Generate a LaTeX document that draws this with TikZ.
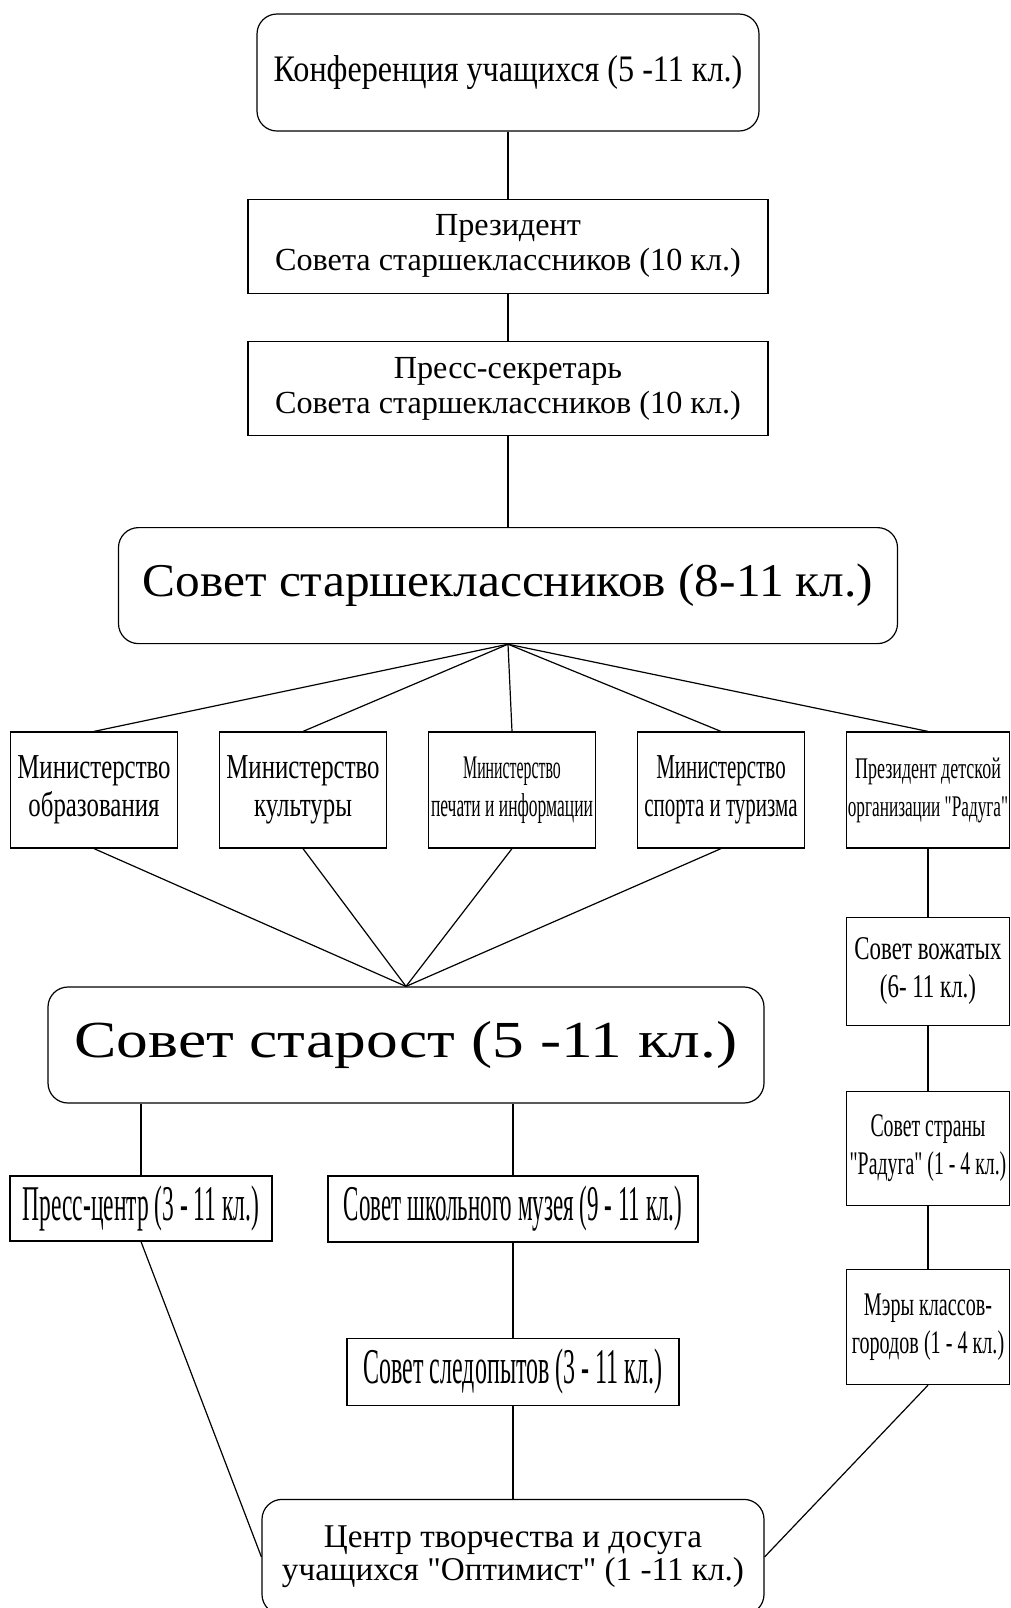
\documentclass[tikz,border=0pt]{standalone}
\usepackage{fontspec}
\setmainfont{Liberation Serif}[Ligatures=TeXOff]
\usetikzlibrary{positioning}

% size, leading, horizontal stretch
\newcommand\txt[3]{\fontsize{#1}{#2}\selectfont\addfontfeatures{FakeStretch=#3}}

\tikzset{
  plainbox/.style={draw, line width=0.6pt, align=center, inner sep=0pt},
  roundbox/.style={plainbox, rounded corners=10pt},
  minbox/.style={plainbox, minimum width=83.5pt, minimum height=58pt},
  rightbox/.style={plainbox, minimum width=81.5pt},
}

\begin{document}
\begin{tikzpicture}[x=0.5pt,y=-0.5pt,line width=0.6pt]
  \useasboundingbox (0,0) rectangle (1011,1608);

  \node[roundbox, minimum width=251pt, minimum height=58.5pt, font=\txt{18.7}{20}{0.86}] (konf) at (508,72.5) {Конференция учащихся (5 -11 кл.)};
  \node[plainbox, minimum width=260pt, minimum height=47pt, font=\txt{16.1}{17.5}{1}] (prez) [below=33.5pt of konf] {Президент\\Совета старшеклассников (10 кл.)};
  \node[plainbox, minimum width=260pt, minimum height=47pt, font=\txt{16.1}{17.5}{1}] (press) [below=23.5pt of prez] {Пресс-секретарь\\Совета старшеклассников (10 кл.)};
  \node[roundbox, minimum width=389.5pt, minimum height=58pt, font=\txt{23.5}{24}{1.05}] (sovss) [below=45.5pt of press] {Совет старшеклассников (8-11 кл.)};

  \draw (konf) -- (prez);
  \draw (prez) -- (press);
  \draw (press) -- (sovss);

  \node[minbox, font=\txt{17.5}{19}{0.71}] (obr) at (94,790) {Министерство\\образования};
  \node[minbox, font=\txt{17.5}{19}{0.71}] (kult) at (303,790) {Министерство\\культуры};
  \node[minbox, font=\txt{16.5}{19}{0.48}] (pech) at (512,790) {Министерство\\\addfontfeatures{FakeStretch=0.53}печати и информации};
  \node[minbox, font=\txt{17.5}{19}{0.6}] (sport) at (721,790) {Министерство\\спорта и туризма};
  \node[rightbox, minimum height=58pt, font=\txt{15}{19}{0.6}] (raduga) at (928,790) {Президент детской\\\addfontfeatures{FakeStretch=0.575}организации "Радуга"};

  \path (sovss.south) edge (obr.north) edge (kult.north) edge (pech.north) edge (sport.north) edge (raduga.north);

  \node[rightbox, minimum height=54pt, font=\txt{16.6}{19}{0.69}] (vozh) [below=34pt of raduga] {Совет вожатых\\(6- 11 кл.)};
  \node[rightbox, minimum height=57pt, font=\txt{16.5}{19}{0.6}] (strana) [below=32.5pt of vozh] {Совет страны\\"Радуга" (1 - 4 кл.)};
  \node[rightbox, minimum height=57.5pt, font=\txt{16.5}{19}{0.61}] (mery) [below=31.5pt of strana] {Мэры классов-\\городов (1 - 4 кл.)};

  \draw (raduga) -- (vozh);
  \draw (vozh) -- (strana);
  \draw (strana) -- (mery);

  \node[roundbox, minimum width=358pt, minimum height=58pt, font=\txt{26}{27}{1.22}] (starost) at (406,1045) {Совет старост (5 -11 кл.)};

  \path (starost.north) edge (obr.south) edge (kult.south) edge (pech.south) edge (sport.south);

  \node[plainbox, minimum width=131pt, minimum height=32.5pt, font=\txt{25}{26}{0.47}] (presscentr) at (141,1208.5) {Пресс-центр (3 - 11 кл.)};
  \node[plainbox, minimum width=185pt, minimum height=33pt, font=\txt{25}{26}{0.46}] (muzey) at (513,1209) {Совет школьного музея (9 - 11 кл.)};
  \node[plainbox, minimum width=166pt, minimum height=33.5pt, font=\txt{25}{26}{0.48}] (sled) [below=47.5pt of muzey] {Совет следопытов (3 - 11 кл.)};
  \node[roundbox, minimum width=251pt, minimum height=57.5pt, font=\txt{16.6}{16.5}{1}] (centr) [below=46.5pt of sled] {Центр творчества и досуга\\учащихся "Оптимист" (1 -11 кл.)};

  \draw (presscentr.north) -- (presscentr.north |- starost.south);
  \draw (muzey.north) -- (muzey.north |- starost.south);
  \draw (muzey) -- (sled);
  \draw (sled) -- (centr);
  \draw (presscentr.south) -- (centr.west);
  \draw (mery.south) -- (centr.east);
\end{tikzpicture}
\end{document}
